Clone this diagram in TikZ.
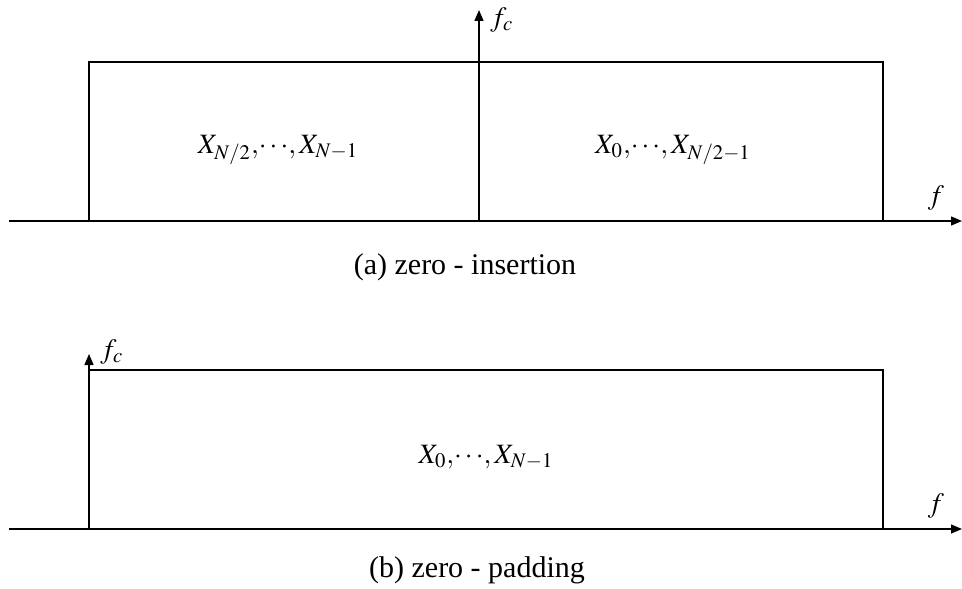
\documentclass[tikz,border=0pt]{standalone}
\usepackage{mathptmx}
\usepackage{fontspec}
\setmainfont{Liberation Serif}
\usetikzlibrary{arrows.meta}

\begin{document}
\begin{tikzpicture}[
    x=0.5pt, y=-0.5pt,
    >={Triangle[length=5.5pt,width=4.5pt]},
    axis/.style={->, line width=0.7pt},
    band/.style={draw, line width=0.6pt},
    spec/.style={font=\fontsize{14}{17}\selectfont, inner sep=0pt},
    caption/.style={font=\fontsize{15}{18}\selectfont, inner sep=0pt}
]
\useasboundingbox (0,0) rectangle (962,588);
% (a) zero-insertion
\coordinate (a0) at (9,221);
\coordinate (a1) at (962,221);
\coordinate (ac) at (479,221);
\coordinate (atop) at (479,10);
\draw[band] (89,62) rectangle (883,221);
\draw[axis] (a0) -- (a1);
\draw[axis] (ac) -- (atop);
\node[spec, anchor=west] (fca) at (490,20) {$f_c$};
\node[spec] (fa) at (936,198) {$f$};
\node[spec] (lowa) at (278,150) {$X_{N/2},\mkern-2mu\cdots\mkern-2mu,X_{N-1}$};
\node[spec] (higha) at (673,150) {$X_{0},\mkern-2mu\cdots\mkern-2mu,X_{N/2-1}$};
\node[caption] (capa) at (465,267) {(a) zero - insertion};
% (b) zero-padding
\coordinate (b0) at (9,529);
\coordinate (b1) at (962,529);
\coordinate (bc) at (89,529);
\coordinate (btop) at (89,354);
\draw[band] (89,370) rectangle (883,529);
\draw[axis] (b0) -- (b1);
\draw[axis] (bc) -- (btop);
\node[spec, anchor=west] (fcb) at (100,352) {$f_c$};
\node[spec] (fb) at (936,506) {$f$};
\node[spec] (allb) at (486,457) {$X_{0},\mkern-2mu\cdots\mkern-2mu,X_{N-1}$};
\node[caption] (capb) at (477,570) {(b) zero - padding};
\end{tikzpicture}
\end{document}
